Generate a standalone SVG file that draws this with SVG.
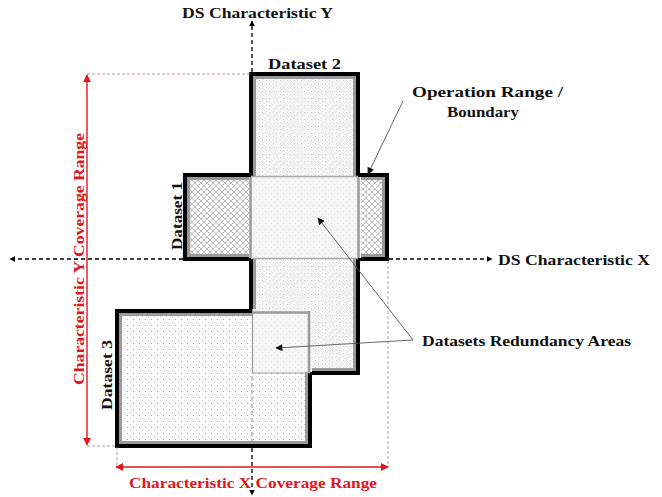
<svg xmlns="http://www.w3.org/2000/svg" width="662" height="497" viewBox="0 0 662 497">
<style>
text{font-family:"Liberation Serif","Times New Roman",serif;font-weight:bold;fill:#111;font-size:15px}
.red{fill:#e2161b}
.blk{stroke:#000;stroke-width:4}
.gry{fill:none;stroke:#9a9a9a;stroke-width:3}
.axis{fill:none;stroke:#000;stroke-width:1.3;stroke-dasharray:4 3}
.axisg{fill:none;stroke:#999;stroke-width:1.1;stroke-dasharray:4 3}
.guide{fill:none;stroke:#c08a8a;stroke-width:0.9;stroke-dasharray:3 2}
.rarr{fill:none;stroke:#e2161b;stroke-width:1.4}
.lead{fill:none;stroke:#555;stroke-width:0.9}
</style>
<defs>
<pattern id="p1" patternUnits="userSpaceOnUse" width="6" height="6">
<rect width="6" height="6" fill="#fff"/>
<path d="M0,0L6,6M6,0L0,6" stroke="#b4b4b4" stroke-width="0.9"/>
</pattern>
<pattern id="p2" patternUnits="userSpaceOnUse" width="7" height="7">
<rect width="7" height="7" fill="#fdfdfd"/>
<path d="M0,0L7,7M7,0L0,7" stroke="#dcdcdc" stroke-width="0.6"/>
<rect x="3" y="0" width="1.2" height="1.2" fill="#c4c4c4"/>
<rect x="0" y="3" width="1.2" height="1.2" fill="#cdcdcd"/>
</pattern>
<pattern id="p3" patternUnits="userSpaceOnUse" width="6" height="6">
<rect width="6" height="6" fill="#fdfdfd"/>
<rect x="1" y="1" width="1" height="1" fill="#aaaaaa"/>
<rect x="4" y="4" width="1" height="1" fill="#d2d2d2"/>
</pattern>
<pattern id="po" patternUnits="userSpaceOnUse" width="6" height="6">
<rect width="6" height="6" fill="#f5f5f5"/>
<rect x="1" y="1" width="1" height="1" fill="#dcdcdc"/>
<rect x="4" y="4" width="1" height="1" fill="#e4e4e4"/>
</pattern>
<marker id="ak" viewBox="0 0 10 10" refX="9" refY="5" markerWidth="6" markerHeight="6" markerUnits="userSpaceOnUse" orient="auto-start-reverse">
<path d="M0,0L10,5L0,10z" fill="#000"/>
</marker>
<marker id="ar" viewBox="0 0 10 10" refX="9" refY="5" markerWidth="8" markerHeight="8" markerUnits="userSpaceOnUse" orient="auto-start-reverse">
<path d="M0,0L10,5L0,10z" fill="#e2161b"/>
</marker>
<marker id="al" viewBox="0 0 10 10" refX="9" refY="5" markerWidth="8" markerHeight="7" markerUnits="userSpaceOnUse" orient="auto">
<path d="M0,0L10,5L0,10z" fill="#111"/>
</marker>
</defs>

<g id="dataset1">
<rect class="blk" x="185" y="175" width="202" height="84" fill="url(#p1)"/>
<rect class="gry" x="188.5" y="178.5" width="195" height="77"/>
</g>
<g id="dataset2">
<rect class="blk" x="251" y="74" width="107" height="299" fill="url(#p2)"/>
<rect class="gry" x="254.5" y="77.5" width="100" height="292"/>
</g>
<g id="dataset3">
<rect class="blk" x="117" y="311" width="193" height="135" fill="url(#p3)"/>
<rect class="gry" x="120.5" y="314.5" width="186" height="128"/>
</g>
<g id="redundancy12">
<rect x="249" y="177" width="112" height="81" fill="url(#po)"/>
<line x1="250.5" y1="177" x2="250.5" y2="258" stroke="#9a9a9a" stroke-width="2.5"/>
<line x1="358.5" y1="177" x2="358.5" y2="258" stroke="#9a9a9a" stroke-width="2.5"/>
<line x1="251" y1="176.5" x2="358" y2="176.5" stroke="#aaa" stroke-width="1.3"/>
<line x1="251" y1="258.5" x2="358" y2="258.5" stroke="#aaa" stroke-width="1.3"/>
</g>
<g id="redundancy23">
<rect x="252.5" y="309" width="59.5" height="63" fill="url(#po)"/>
<line x1="252.5" y1="311" x2="252.5" y2="373" stroke="#999" stroke-width="1.2"/>
<line x1="252" y1="373" x2="310" y2="373" stroke="#999" stroke-width="1.2"/>
<line x1="252" y1="312.5" x2="310" y2="312.5" stroke="#9a9a9a" stroke-width="2.5"/>
<line x1="309" y1="311" x2="309" y2="373" stroke="#9a9a9a" stroke-width="2.5"/>
</g>

<g id="connectors">
<line class="axis" x1="252" y1="72" x2="252" y2="21" marker-end="url(#ak)"/>
<line class="axisg" x1="252" y1="376" x2="252" y2="444"/>
<line class="axis" x1="252" y1="448" x2="252" y2="495" marker-end="url(#ak)"/>
<line class="axis" x1="183" y1="259" x2="10" y2="259" marker-end="url(#ak)"/>
<line class="axis" x1="389" y1="259" x2="492" y2="259" marker-end="url(#ak)"/>
<path class="guide" d="M87,74H250M87,446H116M117,447V467M388,261V467"/>
<line class="rarr" x1="87" y1="75" x2="87" y2="445" marker-start="url(#ar)" marker-end="url(#ar)"/>
<line class="rarr" x1="116" y1="467" x2="388" y2="467" marker-start="url(#ar)" marker-end="url(#ar)"/>
<line class="lead" x1="403" y1="101" x2="368" y2="174" marker-end="url(#al)"/>
<line class="lead" x1="413" y1="340" x2="318" y2="218" marker-end="url(#al)"/>
<line class="lead" x1="413" y1="340" x2="276" y2="348" marker-end="url(#al)"/>
</g>

<g id="labels">
<text x="182" y="18" textLength="151" lengthAdjust="spacingAndGlyphs">DS Characteristic Y</text>
<text x="268" y="69" font-size="14" textLength="73" lengthAdjust="spacingAndGlyphs">Dataset 2</text>
<text x="412" y="97" textLength="151" lengthAdjust="spacingAndGlyphs">Operation Range /</text>
<text x="447" y="117" textLength="72" lengthAdjust="spacingAndGlyphs">Boundary</text>
<text x="498" y="265" textLength="152" lengthAdjust="spacingAndGlyphs">DS Characteristic X</text>
<text x="422" y="346" textLength="209" lengthAdjust="spacingAndGlyphs">Datasets Redundancy Areas</text>
<text transform="translate(182,250) rotate(-90)" font-size="14" textLength="68" lengthAdjust="spacingAndGlyphs">Dataset 1</text>
<text transform="translate(112,410) rotate(-90)" font-size="14" textLength="70" lengthAdjust="spacingAndGlyphs">Dataset 3</text>
<text class="red" transform="translate(84,385) rotate(-90)" textLength="252" lengthAdjust="spacingAndGlyphs">Characteristic Y Coverage Range</text>
<text class="red" x="129" y="488" textLength="248" lengthAdjust="spacingAndGlyphs">Characteristic X Coverage Range</text>
</g>
</svg>
